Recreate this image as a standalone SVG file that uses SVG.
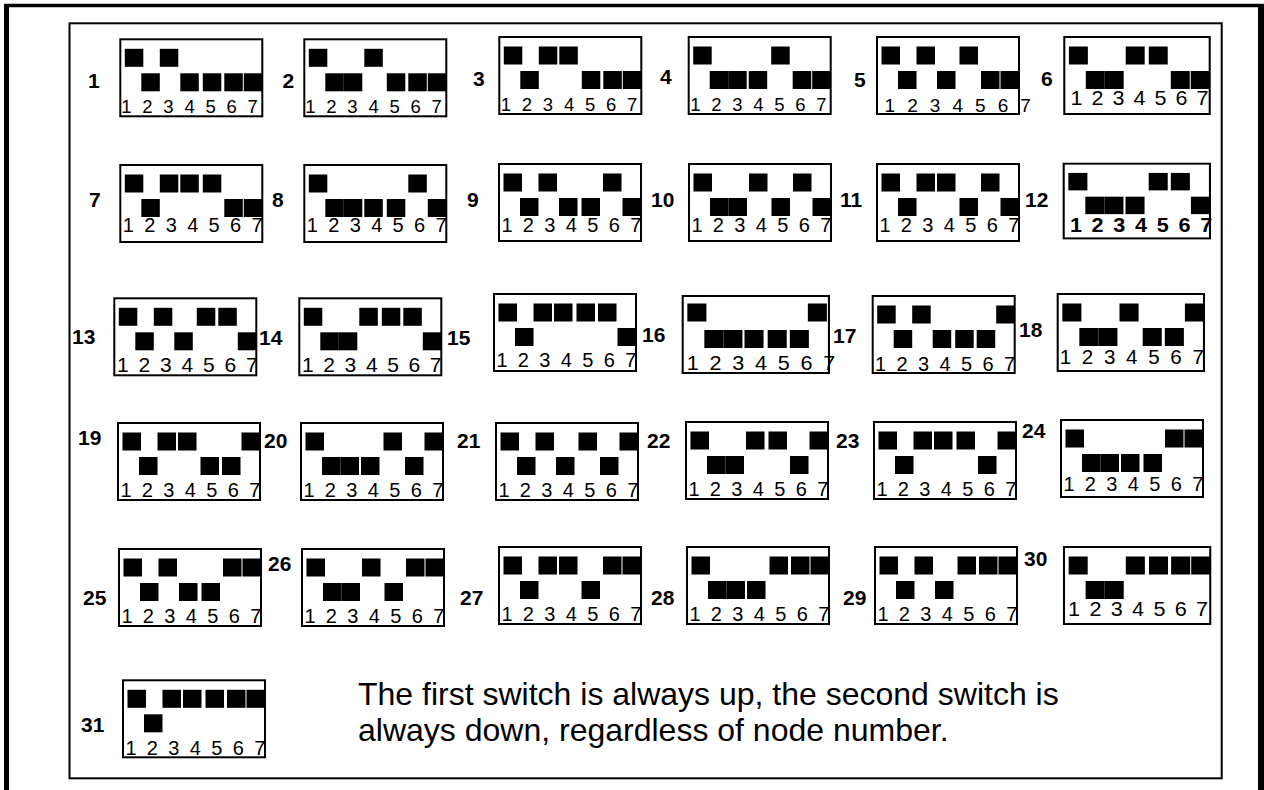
<svg xmlns="http://www.w3.org/2000/svg" width="1264" height="790" viewBox="0 0 1264 790">
<style>
.frm{fill:none;stroke:#000;stroke-width:2}
.sq{fill:#000}
.dig{font-family:"Liberation Sans",Arial,sans-serif;font-size:20px;letter-spacing:2.4px;fill:#000}
.r1{font-size:18.5px;letter-spacing:2.8px}
.lbl{font-family:"Liberation Sans",Arial,sans-serif;font-size:21px;font-weight:bold;fill:#000}
.note{font-family:"Liberation Sans",Arial,sans-serif;font-size:32px;fill:#000}
</style>
<defs>
<rect id="u1" class="sq" x="4.5" y="9.5" width="18.5" height="18"/>
<rect id="u3" class="sq" x="39.5" y="9.5" width="18.5" height="18"/>
<rect id="u4" class="sq" x="60" y="9.5" width="18.5" height="18"/>
<rect id="u5" class="sq" x="82.5" y="9.5" width="18.5" height="18"/>
<rect id="u6" class="sq" x="104" y="9.5" width="18.5" height="18"/>
<rect id="u7" class="sq" x="123.5" y="9.5" width="18.5" height="18"/>
<rect id="d2" class="sq" x="21" y="34" width="18.5" height="18"/>
<rect id="d3" class="sq" x="39.5" y="34" width="18.5" height="18"/>
<rect id="d4" class="sq" x="60" y="34" width="18.5" height="18"/>
<rect id="d5" class="sq" x="82.5" y="34" width="18.5" height="18"/>
<rect id="d6" class="sq" x="104" y="34" width="18.5" height="18"/>
<rect id="d7" class="sq" x="123.5" y="34" width="18.5" height="18"/>
</defs>
<rect x="0" y="0" width="1264" height="790" fill="#fff"/>
<g id="outer-border" fill="none" stroke="#000">
<line x1="4" y1="5.5" x2="1264" y2="5.5" stroke-width="3.5"/>
<line x1="6.5" y1="4" x2="6.5" y2="790" stroke-width="5"/>
<line x1="1261" y1="4" x2="1261" y2="790" stroke-width="6"/>
</g>
<rect id="panel" x="69.5" y="23.3" width="1152.2" height="755" fill="none" stroke="#000" stroke-width="2"/>

<g id="node-1"><text class="lbl" x="88" y="88.3">1</text><g transform="translate(120.3,39.3)"><rect class="frm" width="142" height="77"/><use href="#u1"/><use href="#d2"/><use href="#u3"/><use href="#d4"/><use href="#d5"/><use href="#d6"/><use href="#d7"/><text class="dig r1" x="1" y="73.7">1 2 3 4 5 6 7</text></g></g>
<g id="node-2"><text class="lbl" x="282.5" y="88">2</text><g transform="translate(304.3,39.3)"><rect class="frm" width="142" height="77"/><use href="#u1"/><use href="#d2"/><use href="#d3"/><use href="#u4"/><use href="#d5"/><use href="#d6"/><use href="#d7"/><text class="dig r1" x="1" y="73.7">1 2 3 4 5 6 7</text></g></g>
<g id="node-3"><text class="lbl" x="473" y="86">3</text><g transform="translate(499.3,37)"><rect class="frm" width="142" height="77"/><use href="#u1"/><use href="#d2"/><use href="#u3"/><use href="#u4"/><use href="#d5"/><use href="#d6"/><use href="#d7"/><text class="dig r1" x="1.5" y="74">1 2 3 4 5 6 7</text></g></g>
<g id="node-4"><text class="lbl" x="660" y="84">4</text><g transform="translate(688.7,37)"><rect class="frm" width="142" height="77"/><use href="#u1"/><use href="#d2"/><use href="#d3"/><use href="#d4"/><use href="#u5"/><use href="#d6"/><use href="#d7"/><text class="dig r1" x="1.5" y="74">1 2 3 4 5 6 7</text></g></g>
<g id="node-5"><text class="lbl" x="854" y="86.7">5</text><g transform="translate(877,37)"><rect class="frm" width="142" height="77"/><use href="#u1"/><use href="#d2"/><use href="#u3"/><use href="#d4"/><use href="#u5"/><use href="#d6"/><use href="#d7"/><text class="dig" x="7.5" y="74.7" style="font-size:19px;letter-spacing:3.4px">1 2 3 4 5 6 7</text></g></g>
<g id="node-6"><text class="lbl" x="1041" y="86">6</text><g transform="translate(1064.3,37) scale(1.024,1)"><rect class="frm" width="142" height="77"/><use href="#u1"/><use href="#d2"/><use href="#d3"/><use href="#u4"/><use href="#u5"/><use href="#d6"/><use href="#d7"/><text class="dig" x="6" y="68" style="font-size:21px;letter-spacing:1.5px">1 2 3 4 5 6 7</text></g></g>

<g id="node-7"><text class="lbl" x="89" y="206.7">7</text><g transform="translate(120.3,165)"><rect class="frm" width="142" height="77"/><use href="#u1"/><use href="#d2"/><use href="#u3"/><use href="#u4"/><use href="#u5"/><use href="#d6"/><use href="#d7"/><text class="dig" x="2.4" y="67">1 2 3 4 5 6 7</text></g></g>
<g id="node-8"><text class="lbl" x="272" y="206.7">8</text><g transform="translate(304.3,165)"><rect class="frm" width="142" height="77"/><use href="#u1"/><use href="#d2"/><use href="#d3"/><use href="#d4"/><use href="#d5"/><use href="#u6"/><use href="#d7"/><text class="dig" x="2.4" y="67">1 2 3 4 5 6 7</text></g></g>
<g id="node-9"><text class="lbl" x="467" y="206.7">9</text><g transform="translate(499,164)"><rect class="frm" width="142" height="77"/><use href="#u1"/><use href="#d2"/><use href="#u3"/><use href="#d4"/><use href="#d5"/><use href="#u6"/><use href="#d7"/><text class="dig" x="2.4" y="68">1 2 3 4 5 6 7</text></g></g>
<g id="node-10"><text class="lbl" x="651" y="206.7">10</text><g transform="translate(689,164)"><rect class="frm" width="142" height="77"/><use href="#u1"/><use href="#d2"/><use href="#d3"/><use href="#u4"/><use href="#d5"/><use href="#u6"/><use href="#d7"/><text class="dig" x="2.4" y="68">1 2 3 4 5 6 7</text></g></g>
<g id="node-11"><text class="lbl" x="840" y="206.7">11</text><g transform="translate(877,164)"><rect class="frm" width="142" height="77"/><use href="#u1"/><use href="#d2"/><use href="#u3"/><use href="#u4"/><use href="#d5"/><use href="#u6"/><use href="#d7"/><text class="dig" x="2.4" y="68">1 2 3 4 5 6 7</text></g></g>
<g id="node-12"><text class="lbl" x="1025" y="206.7">12</text><g transform="translate(1063.7,163.7) scale(1.03,0.97)"><rect class="frm" width="142" height="77"/><use href="#u1"/><use href="#d2"/><use href="#d3"/><use href="#d4"/><use href="#u5"/><use href="#u6"/><use href="#d7"/><text class="dig" x="6" y="70" style="font-size:21px;letter-spacing:1.8px;font-weight:bold">1 2 3 4 5 6 7</text></g></g>

<g id="node-13"><text class="lbl" x="72" y="344">13</text><g transform="translate(114.3,298.3)"><rect class="frm" width="142" height="77"/><use href="#u1"/><use href="#d2"/><use href="#u3"/><use href="#d4"/><use href="#u5"/><use href="#u6"/><use href="#d7"/><text class="dig" x="2.7" y="73.4" style="font-size:21px;letter-spacing:2px">1 2 3 4 5 6 7</text></g></g>
<g id="node-14"><text class="lbl" x="259" y="345">14</text><g transform="translate(299.3,298.3)"><rect class="frm" width="142" height="77"/><use href="#u1"/><use href="#d2"/><use href="#d3"/><use href="#u4"/><use href="#u5"/><use href="#u6"/><use href="#d7"/><text class="dig" x="2.7" y="73.4" style="font-size:21px;letter-spacing:1.9px">1 2 3 4 5 6 7</text></g></g>
<g id="node-15"><text class="lbl" x="447" y="345">15</text><g transform="translate(494,294)"><rect class="frm" width="142" height="77"/><use href="#u1"/><use href="#d2"/><use href="#u3"/><use href="#u4"/><use href="#u5"/><use href="#u6"/><use href="#d7"/><text class="dig" x="2.4" y="73">1 2 3 4 5 6 7</text></g></g>
<g id="node-16"><text class="lbl" x="642" y="341.7">16</text><g transform="translate(682.7,296) scale(1.03,1)"><rect class="frm" width="142" height="77"/><use href="#u1" y="-2"/><use href="#d2"/><use href="#d3"/><use href="#d4"/><use href="#d5"/><use href="#d6"/><use href="#u7" x="-2" y="-2"/><text class="dig" x="4" y="74.5" style="font-size:21px;letter-spacing:2.3px">1 2 3 4 5 6 7</text></g></g>
<g id="node-17"><text class="lbl" x="833" y="343">17</text><g transform="translate(872.7,296)"><rect class="frm" width="142" height="77"/><use href="#u1"/><use href="#d2"/><use href="#u3"/><use href="#d4"/><use href="#d5"/><use href="#d6"/><use href="#u7"/><text class="dig" x="2.4" y="74.5">1 2 3 4 5 6 7</text></g></g>
<g id="node-18"><text class="lbl" x="1019" y="336.7">18</text><g transform="translate(1057.7,294) scale(1.03,1)"><rect class="frm" width="142" height="77"/><use href="#u1"/><use href="#d2"/><use href="#d3"/><use href="#u4"/><use href="#d5"/><use href="#d6"/><use href="#u7"/><text class="dig" x="2" y="70">1 2 3 4 5 6 7</text></g></g>

<g id="node-19"><text class="lbl" x="78" y="445">19</text><g transform="translate(118,423)"><rect class="frm" width="142" height="77"/><use href="#u1"/><use href="#d2"/><use href="#u3"/><use href="#u4"/><use href="#d5"/><use href="#d6"/><use href="#u7"/><text class="dig" x="2.4" y="74">1 2 3 4 5 6 7</text></g></g>
<g id="node-20"><text class="lbl" x="264" y="448">20</text><g transform="translate(301,423)"><rect class="frm" width="142" height="77"/><use href="#u1"/><use href="#d2"/><use href="#d3"/><use href="#d4"/><use href="#u5"/><use href="#d6"/><use href="#u7"/><text class="dig" x="2.4" y="74">1 2 3 4 5 6 7</text></g></g>
<g id="node-21"><text class="lbl" x="457" y="448">21</text><g transform="translate(496,423)"><rect class="frm" width="142" height="77"/><use href="#u1"/><use href="#d2"/><use href="#u3"/><use href="#d4"/><use href="#u5"/><use href="#d6"/><use href="#u7"/><text class="dig" x="2.4" y="74">1 2 3 4 5 6 7</text></g></g>
<g id="node-22"><text class="lbl" x="647" y="448">22</text><g transform="translate(686,422)"><rect class="frm" width="142" height="77"/><use href="#u1"/><use href="#d2"/><use href="#d3"/><use href="#u4"/><use href="#u5"/><use href="#d6"/><use href="#u7"/><text class="dig" x="2.4" y="74">1 2 3 4 5 6 7</text></g></g>
<g id="node-23"><text class="lbl" x="836" y="448">23</text><g transform="translate(874,422)"><rect class="frm" width="142" height="77"/><use href="#u1"/><use href="#d2"/><use href="#u3"/><use href="#u4"/><use href="#u5"/><use href="#d6"/><use href="#u7"/><text class="dig" x="2.4" y="74">1 2 3 4 5 6 7</text></g></g>
<g id="node-24"><text class="lbl" x="1022" y="438">24</text><g transform="translate(1061,420)"><rect class="frm" width="142" height="77"/><use href="#u1"/><use href="#d2"/><use href="#d3"/><use href="#d4"/><use href="#d5"/><use href="#u6"/><use href="#u7"/><text class="dig" x="2.4" y="71">1 2 3 4 5 6 7</text></g></g>

<g id="node-25"><text class="lbl" x="83" y="605">25</text><g transform="translate(119,549)"><rect class="frm" width="142" height="77"/><use href="#u1"/><use href="#d2"/><use href="#u3"/><use href="#d4"/><use href="#d5"/><use href="#u6"/><use href="#u7"/><text class="dig" x="2.4" y="74">1 2 3 4 5 6 7</text></g></g>
<g id="node-26"><text class="lbl" x="268" y="571">26</text><g transform="translate(302,549)"><rect class="frm" width="142" height="77"/><use href="#u1"/><use href="#d2"/><use href="#d3"/><use href="#u4"/><use href="#d5"/><use href="#u6"/><use href="#u7"/><text class="dig" x="2.4" y="74">1 2 3 4 5 6 7</text></g></g>
<g id="node-27"><text class="lbl" x="460" y="605">27</text><g transform="translate(499,547)"><rect class="frm" width="142" height="77"/><use href="#u1"/><use href="#d2"/><use href="#u3"/><use href="#u4"/><use href="#d5"/><use href="#u6"/><use href="#u7"/><text class="dig" x="2.4" y="74">1 2 3 4 5 6 7</text></g></g>
<g id="node-28"><text class="lbl" x="651" y="605">28</text><g transform="translate(687,547)"><rect class="frm" width="142" height="77"/><use href="#u1"/><use href="#d2"/><use href="#d3"/><use href="#d4"/><use href="#u5"/><use href="#u6"/><use href="#u7"/><text class="dig" x="2.4" y="74">1 2 3 4 5 6 7</text></g></g>
<g id="node-29"><text class="lbl" x="843" y="605">29</text><g transform="translate(875,547)"><rect class="frm" width="142" height="77"/><use href="#u1"/><use href="#d2"/><use href="#u3"/><use href="#d4"/><use href="#u5"/><use href="#u6"/><use href="#u7"/><text class="dig" x="2.4" y="74">1 2 3 4 5 6 7</text></g></g>
<g id="node-30"><text class="lbl" x="1024" y="566">30</text><g transform="translate(1064,547) scale(1.03,1)"><rect class="frm" width="142" height="77"/><use href="#u1"/><use href="#d2"/><use href="#d3"/><use href="#u4"/><use href="#u5"/><use href="#u6"/><use href="#u7"/><text class="dig" x="4" y="69" style="font-size:21px;letter-spacing:1.6px">1 2 3 4 5 6 7</text></g></g>

<g id="node-31"><text class="lbl" x="81" y="731.7">31</text><g transform="translate(123,680.3)"><rect class="frm" width="142" height="77"/><use href="#u1"/><use href="#d2"/><use href="#u3"/><use href="#u4"/><use href="#u5"/><use href="#u6"/><use href="#u7"/><text class="dig" x="2.4" y="74.5">1 2 3 4 5 6 7</text></g></g>

<g id="note">
<text class="note" x="358" y="705">The first switch is always up, the second switch is</text>
<text class="note" x="358" y="741">always down, regardless of node number.</text>
</g>
</svg>
